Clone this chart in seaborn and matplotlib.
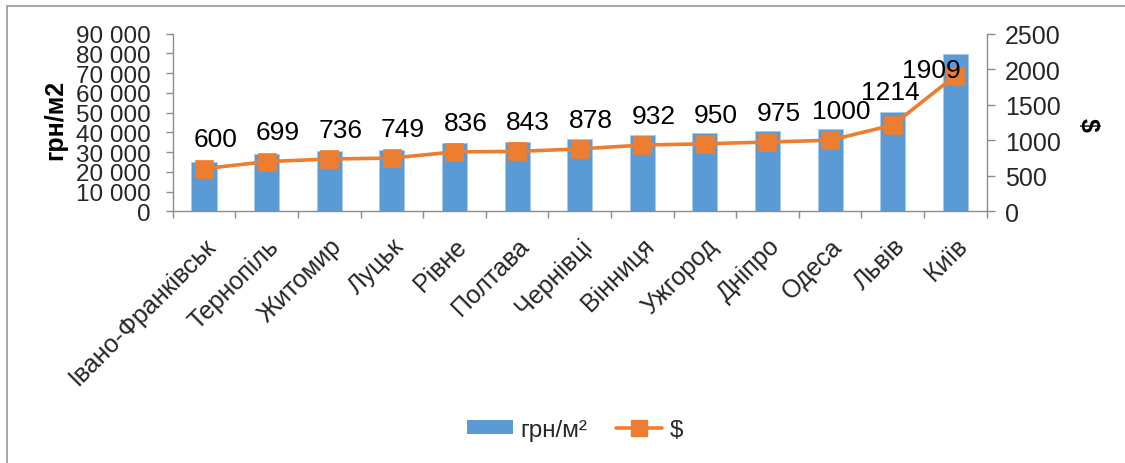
import matplotlib
matplotlib.use("Agg")
import matplotlib.pyplot as plt
import matplotlib.ticker as mticker
from matplotlib.patches import Patch
from matplotlib.lines import Line2D
import seaborn as sns

# Average price per square metre by city
cities = ["Івано-Франківськ", "Тернопіль", "Житомир", "Луцьк", "Рівне", "Полтава",
          "Чернівці", "Вінниця", "Ужгород", "Дніпро", "Одеса", "Львів", "Київ"]
uah_per_m2 = [25100, 29100, 30500, 31200, 34800, 35000, 36700,
              38700, 39500, 40500, 41700, 50400, 79500]
usd_per_m2 = [600, 699, 736, 749, 836, 843, 878, 932, 950, 975, 1000, 1214, 1909]

uah_ticks = list(range(0, 90001, 10000))
usd_ticks = list(range(0, 2501, 500))

BAR = "#5B9BD5"
LINE = "#ED7D31"
AXIS = "#8c8c8c"

sns.set_theme(style="white")
plt.rcParams["font.family"] = ["Liberation Sans", "DejaVu Sans"]

fig = plt.figure(figsize=(11.25, 4.64), dpi=100)
ax = fig.add_axes([0.1535, 0.5425, 0.7235, 0.3827])

sns.barplot(x=cities, y=uah_per_m2, color=BAR, width=0.4, ax=ax,
            saturation=1, edgecolor="#a9cbea", linewidth=0.6)
ax.set_ylim(0, 90000)
ax.set_yticks(uah_ticks)
ax.yaxis.set_major_formatter(
    mticker.FuncFormatter(lambda v, _: f"{int(v):,}".replace(",", " ")))
ax.tick_params(axis="y", labelsize=17.5, length=5, width=1, color=AXIS,
               direction="out", left=True, pad=11)
for t in ax.get_yticklabels():
    t.set_linespacing(0.8)

# category ticks sit between the bars
ax.set_xticks(range(len(cities)))
ax.set_xticklabels(cities, rotation=45, ha="right", rotation_mode="anchor",
                   fontsize=18)
ax.tick_params(axis="x", which="major", length=0, pad=16)
ax.set_xticks([i - 0.5 for i in range(len(cities) + 1)], minor=True)
ax.tick_params(axis="x", which="minor", length=5, width=1, color=AXIS,
               direction="out", bottom=True)

ax2 = ax.twinx()
sns.pointplot(x=cities, y=usd_per_m2, ax=ax2, color=LINE, markers="s",
              markersize=11, linewidth=2.6, errorbar=None)
ax2.set_ylim(0, 2500)
ax2.set_yticks(usd_ticks)
ax2.tick_params(axis="y", labelsize=18, length=6, width=1, color=AXIS,
                direction="out", right=True, pad=7)
ax.set_xlim(-0.5, len(cities) - 0.5)
ax2.set_xlim(-0.5, len(cities) - 0.5)

for a in (ax, ax2):
    a.spines["top"].set_visible(False)
    for side in ("left", "right", "bottom"):
        a.spines[side].set_color(AXIS)
        a.spines[side].set_linewidth(1)
ax2.spines["left"].set_visible(False)
ax2.spines["bottom"].set_visible(False)
ax.spines["right"].set_visible(False)

# value labels over the dollar line
shift = {11: (-2, 24), 12: (-17, 4)}
for i, v in enumerate(usd_per_m2):
    dx, dy = shift.get(i, (8, 21))
    ax2.annotate(f"{v}", (i, v), xytext=(dx, dy), textcoords="offset points",
                 ha="center", va="center", fontsize=19, color="black")

ax.set_ylabel("грн/м2", fontsize=18, fontweight="bold", color="black")
ax.yaxis.label.set_verticalalignment("center")
ax.yaxis.set_label_coords(-0.1446, 0.52)
ax2.set_ylabel("$", fontsize=18, fontweight="bold", rotation=-90, color="black")
ax2.yaxis.label.set_verticalalignment("center")
ax2.yaxis.set_label_coords(1.1245, 0.49)

handles = [Patch(facecolor=BAR, edgecolor="none"),
           Line2D([], [], color=LINE, lw=2.6, marker="s", markersize=11)]
fig.legend(handles, ["грн/м²", "$"], loc="center", bbox_to_anchor=(0.511, 0.072),
           ncol=2, frameon=False, fontsize=17.5, handlelength=1.9,
           handleheight=0.55, columnspacing=1.2, handletextpad=0.3)

# chart frame
frame = [Line2D([7 / 1125, 7 / 1125], [-0.1, 1 - 7 / 464], transform=fig.transFigure,
                color="#a6a6a6", lw=1.4),
         Line2D([7 / 1125, 1.1], [1 - 7 / 464, 1 - 7 / 464], transform=fig.transFigure,
                color="#a6a6a6", lw=1.4)]
for ln in frame:
    fig.add_artist(ln)

fig.savefig("out.png", dpi=100, facecolor="white")
